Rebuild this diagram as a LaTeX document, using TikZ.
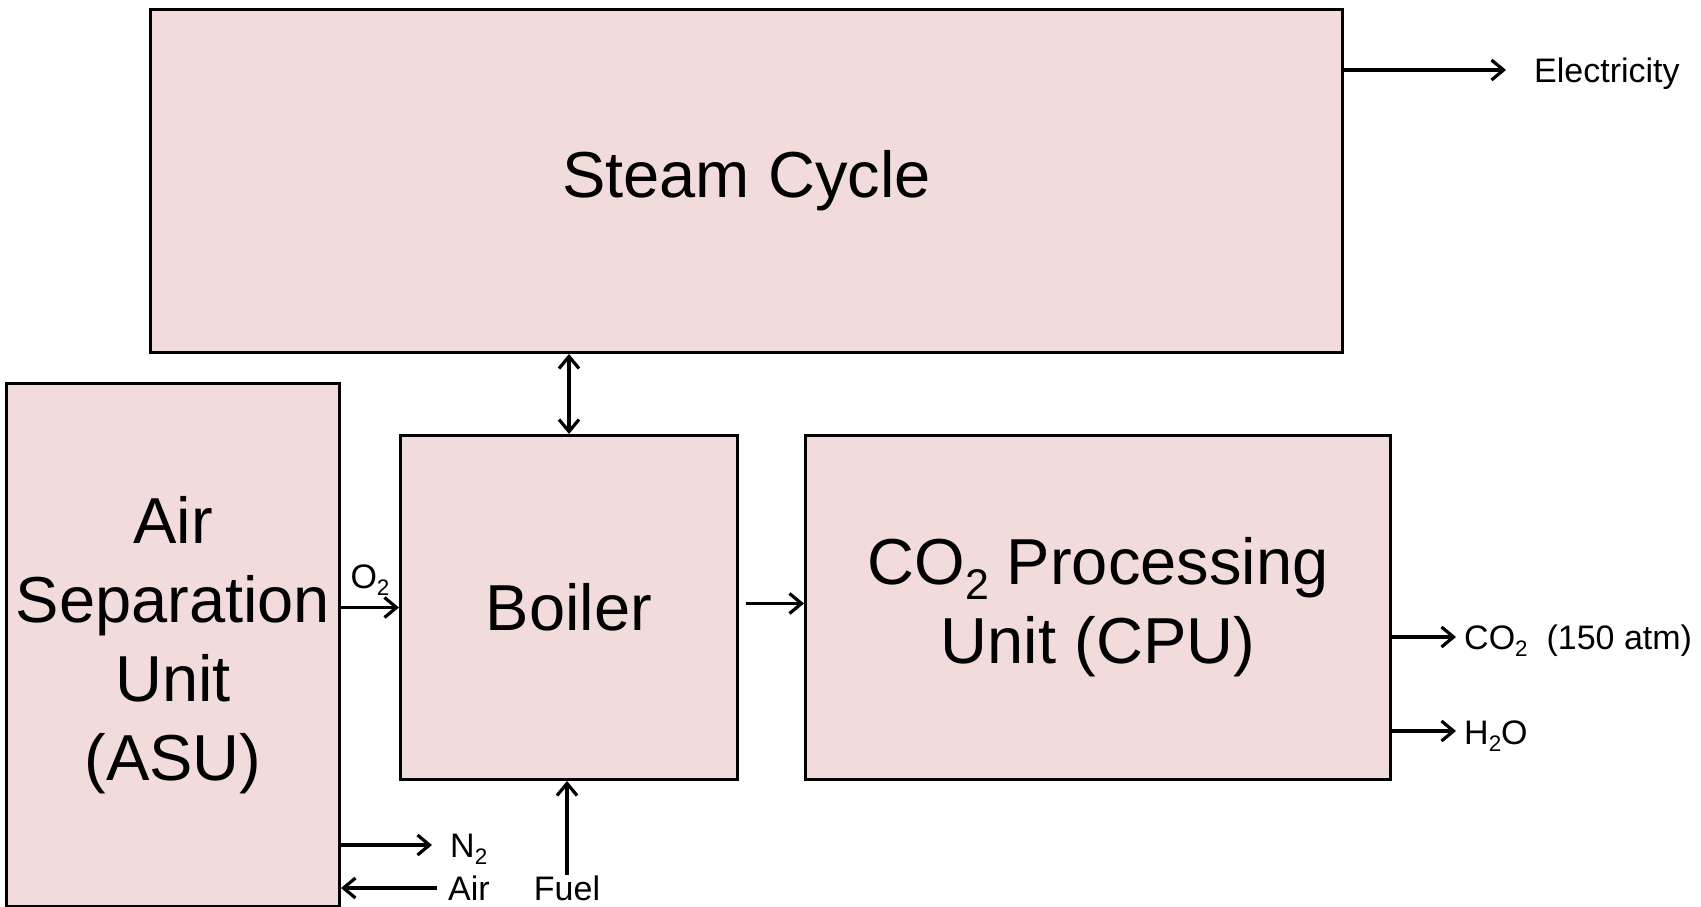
\documentclass[tikz,border=0pt]{standalone}
\usepackage{fontspec}
\setmainfont{Liberation Sans}
\usetikzlibrary{arrows.meta,calc}
\definecolor{unitfill}{HTML}{F2DCDB}
\newcommand{\chemsub}[1]{\raisebox{-0.22em}{\scalebox{0.66}{#1}}}

\begin{document}
\begin{tikzpicture}[x=1pt,y=-1pt,
  unitbox/.style={draw,fill=unitfill,line width=3pt,anchor=north west,
    align=center,inner sep=0pt,font=\fontsize{65}{79}\selectfont},
  streamlabel/.style={font=\fontsize{34}{40}\selectfont,inner sep=0pt},
  flow/.style={line width=3.2pt,-{Straight Barb[length=12pt,width=20pt]}},
  flowboth/.style={line width=3.2pt,{Straight Barb[length=12pt,width=20pt]}-{Straight Barb[length=12pt,width=20pt]}}]

\useasboundingbox (0,0) rectangle (1701,907);

% process units
\node[unitbox,minimum width=1192pt,minimum height=343pt] (steam) at (149,8) {Steam Cycle};
\node[unitbox,minimum width=333pt,minimum height=523pt] (asu) at (5,382)
  {Air\\Separation\\Unit\\(ASU)};
\node[unitbox,minimum width=337pt,minimum height=344pt] (boiler) at (399,434) {Boiler};
\node[unitbox,minimum width=585pt,minimum height=344pt] (cpu) at (804,434)
  {CO\chemsub{2} Processing\\Unit (CPU)};

% stream labels
\node[streamlabel,anchor=base west] (elec) at (1534,83) {Electricity};
\node[streamlabel,anchor=base west] (co2) at (1464,649) {CO\chemsub{2}\ \ (150 atm)};
\node[streamlabel,anchor=base west] (water) at (1464,744) {H\chemsub{2}O};
\node[streamlabel,anchor=base west] (nitro) at (450,857) {N\chemsub{2}};
\node[streamlabel,anchor=base west] (air) at (448,900) {Air};
\node[streamlabel,anchor=base] (fuel) at (567,900) {Fuel};

\coordinate (elecin) at ([xshift=-28pt,yshift=13pt]elec.base west);
\coordinate (co2in) at ([xshift=-8pt,yshift=12pt]co2.base west);
\coordinate (waterin) at ([xshift=-8pt,yshift=13pt]water.base west);
\coordinate (nitroin) at ([xshift=-18pt,yshift=12pt]nitro.base west);
\coordinate (airout) at ([xshift=-11pt,yshift=12pt]air.base west);

% streams
\draw[flow] (steam.east |- elecin) -- (elecin);
\draw[flowboth] (boiler.north) -- (boiler.north |- steam.south);
\draw[flow] (asu.east |- boiler.west) -- (boiler.west)
  node[streamlabel,midway,anchor=base,yshift=19pt] (oxy) {O\chemsub{2}};
\draw[flow] ([xshift=7pt,yshift=4pt]boiler.east) -- ([yshift=4pt]cpu.west);
\draw[flow] (cpu.east |- co2in) -- (co2in);
\draw[flow] (cpu.east |- waterin) -- (waterin);
\draw[flow] (asu.east |- nitroin) -- (nitroin);
\draw[flow] (airout) -- (asu.east |- airout);
\draw[flow] (fuel.north) -- (fuel.north |- boiler.south);

\end{tikzpicture}
\end{document}
